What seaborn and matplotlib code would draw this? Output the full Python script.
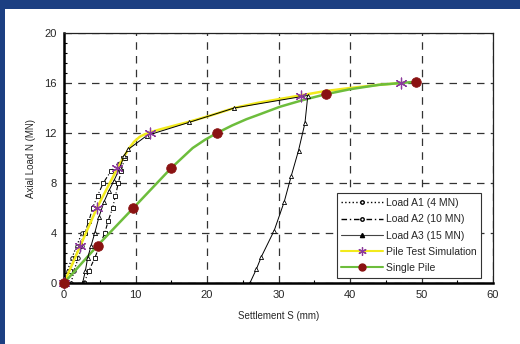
import matplotlib
matplotlib.use("Agg")
import matplotlib.pyplot as plt
from matplotlib.lines import Line2D
from matplotlib.patches import Rectangle
from matplotlib.ticker import MultipleLocator
import seaborn as sns
import pandas as pd

# Load A1 (4 MN): load / unload loop
a1_s = [0, 0.5, 1.1, 1.8, 2.5, 2.9, 2.5, 2.0, 1.4, 1.0]
a1_n = [0, 1, 2, 3, 4, 4, 3, 2, 1, 0]

# Load A2 (10 MN)
a2_s = [0, 0.9, 1.5, 2.2, 2.9, 3.5, 4.0, 4.7, 5.5, 6.6, 8.3,
        8.5, 8.0, 7.6, 7.2, 6.8, 6.2, 5.7, 5.0, 4.3, 3.5, 2.8]
a2_n = [0, 1, 2, 3, 4, 5, 6, 7, 8, 9, 10,
        10, 9, 8, 7, 6, 5, 4, 3, 2, 1, 0]

# Load A3 (15 MN)
a3_s = [2.6, 3.0, 3.3, 3.8, 4.3, 4.9, 5.6, 6.3, 7.0, 7.8, 8.4, 9.0, 11.6,
        17.5, 23.8, 34.1, 33.7, 32.8, 31.8, 30.8, 29.4, 27.6, 26.9, 26.0]
a3_n = [0, 1, 2, 3, 4, 5.3, 6.5, 7.4, 8.2, 9.2, 10.2, 10.7, 11.8,
        12.85, 14.0, 15.0, 12.8, 10.6, 8.6, 6.5, 4.2, 2.1, 1.1, 0]

# Pile test simulation: curve + marked points
sim_curve_s = [0, 2.3, 4.6, 7.4, 8.3, 9.0, 9.8, 10.6, 11.3, 12.0, 13.5, 15.5,
               17.5, 20.5, 23.8, 27, 30, 33, 36.5, 40, 44, 47.2]
sim_curve_n = [0, 3, 6, 9.1, 10.0, 10.7, 11.3, 11.7, 11.9, 12.05, 12.3, 12.6,
               12.9, 13.4, 14.0, 14.4, 14.7, 15.0, 15.35, 15.6, 15.85, 16.0]
sim_pts_s = [0, 2.3, 4.6, 7.4, 12.0, 33.2, 47.2]
sim_pts_n = [0, 3, 6, 9.2, 12, 15, 16]

# Single pile: curve + marked points
sp_curve_s = [0, 4.7, 9.7, 15, 16.5, 18, 19.7, 21.4, 23.5, 25.5, 27.4, 30.2,
              33.5, 36.6, 40, 44, 49.2]
sp_curve_n = [0, 3, 6, 9.2, 10.0, 10.8, 11.45, 12.0, 12.6, 13.1, 13.5, 14.1,
              14.65, 15.1, 15.5, 15.85, 16.1]
sp_pts_s = [0, 4.7, 9.7, 15, 21.4, 36.6, 49.2]
sp_pts_n = [0, 3, 6, 9.2, 12, 15.1, 16.1]

YELLOW = "#f2ea1c"
GREEN = "#6dbd3c"
RED = "#8a1212"
PURPLE = "#8c3a9c"
BLUE = "#1c3f82"
STAR = (6, 2, 0)

sns.set_theme(style="white")
plt.rcParams["font.family"] = ["Liberation Sans", "DejaVu Sans"]

fig = plt.figure(figsize=(5.2, 3.44), dpi=100, facecolor=BLUE)
fig.add_artist(Rectangle((5 / 520, 0), 1, 1 - 9 / 344, transform=fig.transFigure,
                         facecolor="white", edgecolor="none", zorder=-10))
ax = fig.add_axes([64 / 520, 1 - 283 / 344, (493 - 64) / 520, (283 - 33) / 344])
ax.set_zorder(2)

ax.grid(True, which="major", color="#333333", linestyle=(0, (6, 5)), linewidth=0.9)
ax.set_axisbelow(True)

def df(s, n):
    return pd.DataFrame({"s": s, "n": n})

sns.lineplot(data=df(a1_s, a1_n), x="s", y="n", ax=ax, sort=False, estimator=None,
             color="black", lw=0.9, linestyle=":", marker="o", ms=2.5,
             mfc="white", mec="black", mew=0.6)
sns.lineplot(data=df(a2_s, a2_n), x="s", y="n", ax=ax, sort=False, estimator=None,
             color="black", lw=0.8, linestyle=(0, (4, 2, 1, 2)), marker="s", ms=2.8,
             mfc="white", mec="black", mew=0.6)
sns.lineplot(data=df(sim_curve_s, sim_curve_n), x="s", y="n", ax=ax, sort=False,
             estimator=None, color=YELLOW, lw=1.8)
sns.lineplot(data=df(sp_curve_s, sp_curve_n), x="s", y="n", ax=ax, sort=False,
             estimator=None, color=GREEN, lw=1.8)
sns.lineplot(data=df(a3_s, a3_n), x="s", y="n", ax=ax, sort=False, estimator=None,
             color="black", lw=0.7, marker="^", ms=3, mfc="white", mec="black", mew=0.6)
sns.scatterplot(data=df(sim_pts_s, sim_pts_n), x="s", y="n", ax=ax, marker=STAR,
                s=60, color=PURPLE, linewidth=0.9, zorder=5, clip_on=False)
sns.scatterplot(data=df(sp_pts_s, sp_pts_n), x="s", y="n", ax=ax, marker="o",
                s=48, color=RED, edgecolor=RED, zorder=6, clip_on=False)

ax.set_xlim(0, 60)
ax.set_ylim(0, 20)
ax.xaxis.set_major_locator(MultipleLocator(10))
ax.xaxis.set_minor_locator(MultipleLocator(5))
ax.yaxis.set_major_locator(MultipleLocator(4))
ax.yaxis.set_minor_locator(MultipleLocator(0.8))
ax.tick_params(which="both", direction="in", color="black", labelsize=8, pad=5)
ax.tick_params(which="major", length=4, width=1)
ax.tick_params(which="minor", length=2.5, width=0.8, left=True, bottom=True)
for side in ["top", "right"]:
    ax.spines[side].set_linewidth(0.9)
    ax.spines[side].set_color("#222222")
for side in ["left", "bottom"]:
    ax.spines[side].set_linewidth(1.8)
    ax.spines[side].set_color("black")

ax.set_xlabel("Settlement S (mm)", fontsize=7, labelpad=8)
ax.set_ylabel("Axial Load N (MN)", fontsize=7, labelpad=6)

handles = [
    Line2D([], [], color="black", lw=1, linestyle=":", marker="o", ms=2.5,
           mfc="white", mec="black"),
    Line2D([], [], color="black", lw=1, linestyle=(0, (4, 2, 1, 2)), marker="o",
           ms=2.5, mfc="white", mec="black"),
    Line2D([], [], color="#444444", lw=0.8, marker="^", ms=3, mfc="black", mec="black"),
    Line2D([], [], color=YELLOW, lw=1.5, marker=STAR, ms=6, mec=PURPLE, mew=0.9),
    Line2D([], [], color=GREEN, lw=1.5, marker="o", ms=5, mfc=RED, mec=RED),
]
labels = ["Load A1 (4 MN)", "Load A2 (10 MN)", "Load A3 (15 MN)",
          "Pile Test Simulation", "Single Pile"]
leg = ax.legend(handles, labels, loc="lower right", bbox_to_anchor=(0.985, 0.0),
                fontsize=7.5, frameon=True, fancybox=False, framealpha=1,
                edgecolor="#333333", numpoints=1, handlelength=4.0,
                borderpad=0.45, labelspacing=0.6, handletextpad=0.3)
leg.get_frame().set_linewidth(0.8)

fig.savefig("out.png", dpi=100, facecolor=fig.get_facecolor())
